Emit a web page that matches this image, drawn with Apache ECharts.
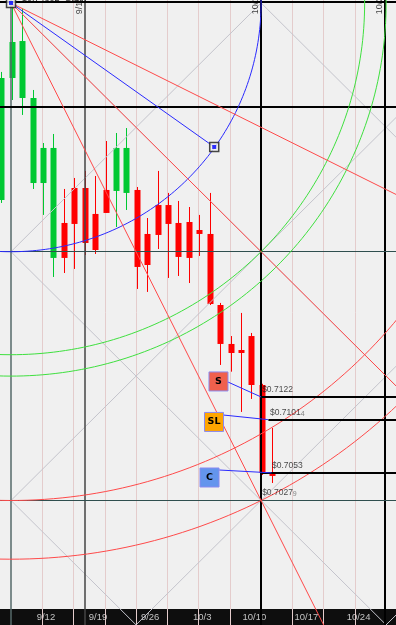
<!DOCTYPE html>
<html>
<head>
<meta charset="utf-8">
<script src="https://cdn.jsdelivr.net/npm/echarts@6/dist/echarts.min.js"></script>
<style>
  html, body { margin: 0; padding: 0; background: #f0f0f0; }
  #chart { width: 396px; height: 625px; }
</style>
</head>
<body>
<div id="chart"></div>
<script>
// bar index of each candle (trading days) and OHLC
const barIdx = [0,1,2,3,4,5,6,7,8,9,10,11,12,13,14,15,16,17,18,19,20,21,22,23,24,25,26];
const opens  = [0.73011,0.74120,0.73938,0.73165,0.73165,0.72484,0.72802,0.73120,0.73120,0.72884,0.73102,0.73093,0.73075,0.73102,0.72702,0.72965,0.72965,0.72802,0.72811,0.72738,0.72702,0.72056,0.71702,0.71647,0.71774,0.71329,0.70529];
const closes = [0.74120,0.74447,0.74456,0.73938,0.73484,0.73484,0.72484,0.72793,0.72620,0.72556,0.72893,0.73484,0.73484,0.72402,0.72420,0.72693,0.72793,0.72493,0.72484,0.72702,0.72065,0.71702,0.71620,0.71620,0.71329,0.70529,0.70502];
const lows   = [0.72984,0.73920,0.73784,0.73111,0.72875,0.72311,0.72347,0.72384,0.72511,0.72520,0.72893,0.72765,0.72920,0.72202,0.72175,0.72565,0.72302,0.72320,0.72256,0.72502,0.72056,0.71511,0.71450,0.71084,0.71202,0.70511,0.70438];
const highs  = [0.74175,0.74802,0.74750,0.74011,0.73529,0.73611,0.73111,0.73211,0.73275,0.73229,0.73547,0.73620,0.73665,0.73129,0.72847,0.73275,0.73075,0.73002,0.72947,0.72875,0.73075,0.72075,0.71774,0.71984,0.71802,0.71340,0.70938];

// bottom axis labels (mondays)
const dateLabels = ['9/12','9/19','9/26','10/3','10/10','10/17','10/24'];
const datePos    = [4.35, 9.35, 14.35, 19.35, 24.35, 29.35, 34.35];

// gann box: anchor, box size in bars / price
const anchor = [1, 0.74802];
const boxBars = 24;
const boxPrice = 0.022615;
const gannCols = [1, 25, 49];
const gannRows = [0.74802, 0.725405, 0.70279, 0.680175];
const fanRatios = [0.5, 1, 2];
const bluePoint = [20.5, 0.73493];
const arcRatios = [1, 1.414, 1.5, 2, 2.236];
const arcColors = ['#2a2aff', '#3fe03f', '#3fe03f', '#ff4a4a', '#ff4a4a'];

// vertical / horizontal guide lines
const pinkCols = [4,7,10,13,16,19,22,28,31,34];
const darkCols = [1, 8.1, 25, 36.9];
const darkColNames = ['', '9/15', '10/10', '10/26'];
const darkColColors = ['#566a6a', '#444444', '#000000', '#000000'];
const darkRows = [0.74815, 0.73856, 0.725405, 0.70279];
const darkRowColors = ['#000000', '#000000', '#2f4f4f', '#2f4f4f'];

// trade levels
const levelNames  = ['S', 'SL', 'C'];
const levelPrices = [0.7122, 0.71014, 0.7053];
const levelStart  = [25, 25.7, 25];
const levelBoxAt  = [[20.91, 0.71361], [20.48, 0.70993], [20.05, 0.70488]];
const levelWireFrom = [[21.82, 0.71356], [21.38, 0.71056], [20.98, 0.70556]];
const levelWireTo = [[25, 0.7122], [25.66, 0.71014], [26, 0.7053]];
const levelColors = ['#f0604c', '#ffa500', '#6495ed'];
const priceTags = [['0.7122', ''], ['0.7101', '4'], ['0.7053', ''], ['0.7027', '9']];
const priceTagAt = [[25.1, 0.71284], [25.85, 0.71075], [26.05, 0.70593], [25.1, 0.70347]];

const xMin = -0.0576, xMax = 37.946;
const yMin = 0.69147, yMax = 0.74829;

const GREEN = '#00c832', RED = '#ff0000';

const candleData = barIdx.map((k, i) => [k, opens[i], closes[i], lows[i], highs[i]]);

function seg(a, b) { return { coords: [a, b] }; }

// diagonals of every gann cell
const diagLines = [];
for (let c = 0; c < gannCols.length - 1; c++) {
  for (let r = 0; r < gannRows.length - 1; r++) {
    diagLines.push(seg([gannCols[c], gannRows[r]], [gannCols[c + 1], gannRows[r + 1]]));
    diagLines.push(seg([gannCols[c], gannRows[r + 1]], [gannCols[c + 1], gannRows[r]]));
  }
}

const fanLines = fanRatios.map(r => seg(anchor, [anchor[0] + 2 * boxBars, anchor[1] - 2 * r * boxPrice]));

function arcPoints(ratio) {
  const pts = [];
  for (let t = -0.05; t <= Math.PI + 0.05; t += Math.PI / 180) {
    pts.push([anchor[0] + boxBars * ratio * Math.cos(t), anchor[1] - boxPrice * ratio * Math.sin(t)]);
  }
  return pts;
}

const arcSeries = arcRatios.map((r, i) => ({
  type: 'line', data: arcPoints(r), showSymbol: false, smooth: false, silent: true, z: 5,
  lineStyle: { color: arcColors[i], width: 1 }
}));

const option = {
  backgroundColor: '#f0f0f0',
  animation: false,
  grid: { left: 0, right: 0, top: 0, bottom: 0 },
  xAxis: {
    type: 'value', min: xMin, max: xMax,
    splitLine: { show: false }, axisLine: { show: false }, axisTick: { show: false },
    axisLabel: {
      inside: true, margin: 3, color: '#c4c4c4', fontSize: 9.5, fontFamily: 'Liberation Sans',
      customValues: datePos,
      formatter: v => dateLabels[datePos.indexOf(v)] || ''
    }
  },
  yAxis: { type: 'value', min: yMin, max: yMax, show: false, splitLine: { show: false } },
  graphic: [
    { type: 'rect', z: 0, shape: { x: 0, y: 609, width: 396, height: 16 }, style: { fill: '#0e0e0e' } },
    { type: 'text', z: 50, x: 22, y: 3, style: { text: '$0.74802  Gann', fill: '#222', font: '9px Liberation Sans', textVerticalAlign: 'bottom' } }
  ],
  series: [
    { type: 'lines', coordinateSystem: 'cartesian2d', silent: true, z: 1,
      lineStyle: { color: '#e4cccc', width: 1, opacity: 1 },
      data: pinkCols.map(k => seg([k, yMin], [k, yMax])) },
    { type: 'custom', z: 3, silent: true,
      encode: { x: 0, y: [1, 2, 3, 4] },
      data: candleData,
      renderItem: function (params, api) {
        const k = api.value(0), o = api.value(1), c = api.value(2), lo = api.value(3), hi = api.value(4);
        const pO = api.coord([k, o]), pC = api.coord([k, c]), pL = api.coord([k, lo]), pH = api.coord([k, hi]);
        const w = 6;
        const color = c >= o ? GREEN : RED;
        const top = Math.min(pO[1], pC[1]);
        const h = Math.max(Math.abs(pO[1] - pC[1]), 2);
        const x = Math.round(pO[0] + 0.7);
        return { type: 'group', children: [
          { type: 'line', shape: { x1: x + 0.5, y1: pH[1], x2: x + 0.5, y2: pL[1] }, style: { stroke: color, lineWidth: 1 } },
          { type: 'rect', shape: { x: x - 2.5, y: top, width: w, height: h }, style: { fill: color } }
        ] };
      } },
    { type: 'lines', coordinateSystem: 'cartesian2d', silent: true, z: 4,
      lineStyle: { color: '#c4c4cc', width: 1, opacity: 1 }, data: diagLines },
    { type: 'lines', coordinateSystem: 'cartesian2d', silent: true, z: 4,
      lineStyle: { width: 1.5, opacity: 1 },
      data: darkCols.map((k, i) => ({ coords: [[k, yMin], [k, yMax]], lineStyle: { color: darkColColors[i], width: i >= 2 ? 2 : 1.5 } })) },
    { type: 'scatter', z: 4, silent: true, symbolSize: 0,
      data: darkCols.map(k => [k - 0.55, yMax - 0.0013]),
      label: { show: true, rotate: 90, position: 'inside', align: 'left', verticalAlign: 'middle',
        formatter: p => darkColNames[p.dataIndex], color: '#111', fontSize: 9, fontFamily: 'Liberation Sans' } },
    { type: 'lines', coordinateSystem: 'cartesian2d', silent: true, z: 4,
      lineStyle: { width: 1, opacity: 1 },
      data: darkRows.map((p, i) => ({ coords: [[xMin, p], [xMax, p]], lineStyle: { color: darkRowColors[i], width: i < 2 ? 2 : 1 } })) },
    ...arcSeries,
    { type: 'lines', coordinateSystem: 'cartesian2d', silent: true, z: 6,
      lineStyle: { color: '#ff4a4a', width: 1, opacity: 1 }, data: fanLines },
    { type: 'lines', coordinateSystem: 'cartesian2d', silent: true, z: 6,
      lineStyle: { color: '#2a2aff', width: 1, opacity: 1 }, data: [seg(anchor, bluePoint)] },
    { type: 'lines', coordinateSystem: 'cartesian2d', silent: true, z: 7,
      lineStyle: { color: '#000000', width: 2, opacity: 1 },
      data: levelPrices.map((p, i) => seg([levelStart[i], p], [xMax, p])) },
    { type: 'lines', coordinateSystem: 'cartesian2d', silent: true, z: 7,
      lineStyle: { color: '#2a2aff', width: 1, opacity: 1 },
      data: levelWireFrom.map((a, i) => seg(a, levelWireTo[i])) },
    { type: 'scatter', z: 8, silent: true, symbol: 'rect', symbolSize: [19, 19],
      data: levelBoxAt.map((p, i) => ({ value: p, itemStyle: { color: levelColors[i] } })),
      itemStyle: { borderColor: '#8a8af0', borderWidth: 1, opacity: 1 },
      label: { show: true, position: 'inside', formatter: p => levelNames[p.dataIndex],
        color: '#000', fontWeight: 'bold', fontSize: 9.5, fontFamily: 'DejaVu Sans' } },
    { type: 'scatter', z: 8, silent: true, symbolSize: 0,
      data: priceTagAt,
      label: { show: true, position: 'right', distance: 0,
        formatter: p => '{a|$' + priceTags[p.dataIndex][0] + '}{b|' + priceTags[p.dataIndex][1] + '}',
        rich: { a: { fontSize: 8.5, color: '#1a1a1a', fontFamily: 'Liberation Sans' },
                b: { fontSize: 7, color: '#666', fontFamily: 'Liberation Sans', padding: [3, 0, 0, 0] } } } },
    { type: 'scatter', z: 9, silent: true, symbol: 'rect', symbolSize: 9,
      itemStyle: { color: '#f0f0f0', borderColor: '#1a1a1a', borderWidth: 1.5 },
      data: [anchor, bluePoint] },
    { type: 'scatter', z: 10, silent: true, symbol: 'rect', symbolSize: 4,
      itemStyle: { color: '#0000ff' },
      data: [anchor, bluePoint] }
  ]
};

const chart = echarts.init(document.getElementById('chart'));
chart.setOption(option);
</script>
</body>
</html>
